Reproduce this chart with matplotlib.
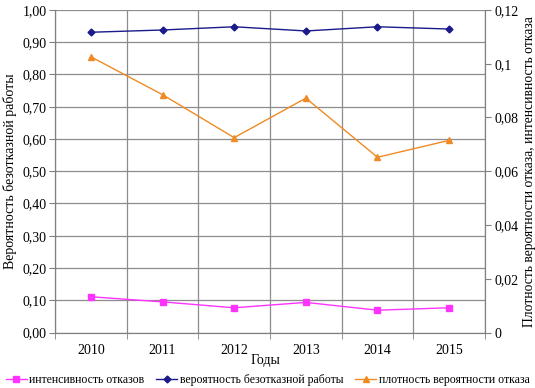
import numpy as np
import matplotlib.pyplot as plt
from matplotlib.ticker import FuncFormatter, MultipleLocator

plt.rcParams['font.family'] = ['Liberation Serif', 'DejaVu Serif']

years = ['2010', '2011', '2012', '2013', '2014', '2015']
intensity = [0.0133, 0.0114, 0.0092, 0.0112, 0.0083, 0.0092]
reliability = [0.931, 0.938, 0.948, 0.935, 0.948, 0.941]
density = [0.1026, 0.0885, 0.0725, 0.0872, 0.0652, 0.0715]

fig = plt.figure(figsize=(5.35, 3.88), dpi=100)
ax = fig.add_axes([55 / 535, 1 - 332.5 / 388, 430 / 535, 322.5 / 388])
ax2 = ax.twinx()

x = np.arange(len(years))
ax.set_xlim(-0.5, len(years) - 0.5)
ax.set_ylim(0, 1)
ax2.set_ylim(0, 0.12)

ax.yaxis.set_major_locator(MultipleLocator(0.1))
ax.yaxis.set_major_formatter(FuncFormatter(lambda v, p: f'{v:.2f}'.replace('.', ',')))
ax2.yaxis.set_major_locator(MultipleLocator(0.02))
ax2.yaxis.set_major_formatter(FuncFormatter(lambda v, p: f'{v:.2f}'.rstrip('0').rstrip('.').replace('.', ',') if v else '0'))

ax.set_xticks(x)
ax.set_xticklabels(years)
ax.set_xticks(np.arange(len(years) + 1) - 0.5, minor=True)
ax.tick_params(axis='x', which='major', length=0, pad=8)
ax.tick_params(axis='x', which='minor', length=4, color='#808080')
ax.tick_params(axis='y', length=4, color='#808080', pad=2)
ax2.tick_params(axis='y', length=4, color='#808080', pad=3)
ax.tick_params(labelsize=10)
ax2.tick_params(labelsize=10)

ax.grid(True, axis='y', color='#8c8c8c', lw=0.9)
ax.grid(True, axis='x', which='minor', color='#8c8c8c', lw=0.9)
ax.set_axisbelow(True)
for a in (ax, ax2):
    a.spines['top'].set_visible(False)
    for s in ('left', 'right', 'bottom'):
        a.spines[s].set_color('#808080')

l1, = ax2.plot(x, intensity, color='#ff33ff', marker='s', ms=5, lw=1,
               label='интенсивность отказов')
l2, = ax.plot(x, reliability, color='#1a1a8c', marker='D', ms=3.5, lw=1,
              label='вероятность безотказной работы')
l3, = ax2.plot(x, density, color='#f08a24', marker='^', ms=5, lw=1,
               label='плотность вероятности отказа')

ax.set_xlabel('Годы', fontsize=10)
ax.xaxis.set_label_coords(0.49, -0.066)
ax.set_ylabel('Вероятность безотказной работы', fontsize=10, labelpad=4)
ax2.set_ylabel('Плотность вероятности отказа, интенсивность отказа', fontsize=9.8, labelpad=3)

fig.legend(handles=[l1, l2, l3], loc='lower center', ncol=3, frameon=False,
           fontsize=8.5, bbox_to_anchor=(0.5, -0.022), handlelength=1.8,
           columnspacing=1.0, handletextpad=0.2)

fig.savefig('out.png', dpi=100)
